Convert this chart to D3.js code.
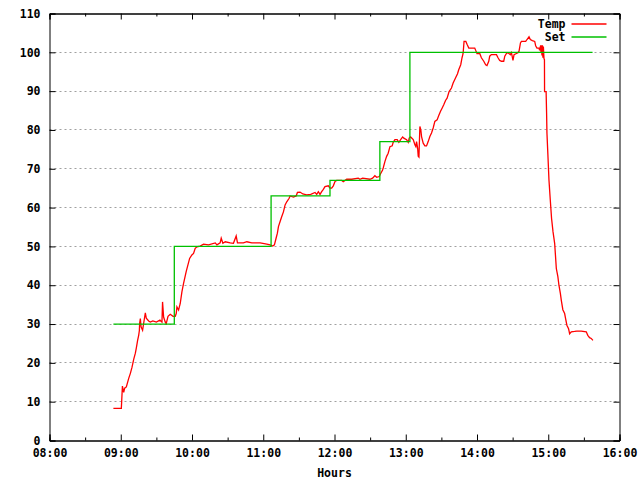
<!DOCTYPE html>
<html>
<head>
<meta charset="utf-8">
<script src="https://d3js.org/d3.v7.min.js"></script>
<style>
	body { margin: 0; background: #fff; }
	text { font-family: "DejaVu Sans Mono", monospace; font-size: 11.5px; font-weight: bold; fill: #000; }
</style>
</head>
<body>
<div id="chart"></div>
<script>

// times are minutes after midnight
var temp_time = [533.8, 540.5, 541.4, 542.5, 543.3, 544.7, 546.7, 548.1, 549.5, 550.9, 552.3, 553.1, 554.2, 555.1, 555.7, 555.9, 556.5, 557.1, 558.4, 559.3, 560.7, 561.5, 563.5, 564.9, 567, 570, 573, 574.7, 575.2, 576.1, 577.5, 578.3, 579.8, 581.7, 584, 585.9, 586.7, 587.3, 588.7, 590.1, 591.5, 592.9,
	595.1, 598.0, 599.9, 601.3, 602.7, 604.2, 606.9, 609.7, 613.9, 619.6, 621, 623.7, 624.6, 626, 628, 632.2, 634.9, 637.2, 638.3, 643.3, 646.2, 650.4, 657.4, 663, 665.8, 668, 669.4, 670.8, 671.9, 672.8, 674.2, 675.6, 677, 678.4, 679.8, 681.8,
	682.6, 685.4, 687.7, 688.8, 691, 693.3, 696.6, 700, 703.6, 705, 706.4, 707.8, 709.2, 710.6, 712, 714.8, 716.2, 717.6, 719, 720.4, 721.8, 726.1, 727.4, 730.3, 734.5, 740, 741.4, 743.7, 749.8, 752.1, 754, 755.5, 757.7, 758.8, 760.5,
	761, 762.5, 763.9, 765.2, 766.7, 768.6, 769.4, 770.9, 772.8, 774.2, 775.7, 777.4, 778.4, 780.7, 782.1, 782.9, 784.1, 786.3, 787.7, 788.5, 789.1, 790, 790.5, 791.1, 791.9, 792.7, 793.3, 794.7, 796.1, 797.5, 798.9, 800.3, 801.7,
	803.1, 804.5, 806.4, 807.8, 809.3, 810.6, 812, 813.5, 814.8, 816.5, 818.5, 819.9, 821.9, 823.6, 824.6, 826.3, 827.4, 828.3, 829.1, 830.6, 831.7, 833.1, 838.1, 838.9, 840, 842.3, 843.7, 845.7, 847.3, 848.4, 849.9, 850.7, 852.1,
	856.4, 857.7, 859.1, 860.6, 862.5, 863.4, 864.8, 866.1, 868.1, 869, 870.3, 871.2, 873.2, 874.5, 875.4, 876.6, 877.4, 881, 882.1, 883.8, 884.9, 886.6, 888.6, 889.4, 890.5, 892.2, 892.7, 893.6, 893.9, 894.3, 894.7, 895.1, 895.5,
	895.9, 896.4, 896.8, 896.9, 898.2, 898.6, 898.9, 899.7, 900.6, 901.7, 902.8, 904, 905.4, 906.8, 908.1, 909, 910.2, 911, 912.3, 913.8, 914.6, 915.7, 917.1, 918, 919.4, 922.2, 924.1, 927.8, 932, 933.3, 934.8, 936.2, 937.6]

var temp_value = [8.3, 8.3, 14.0, 12.4, 13.5, 13.8, 16.0, 17.3, 18.9, 20.9, 22.5, 23.8, 25.8, 27.1, 28.4, 30.2, 31.4, 29.3, 28.4, 30.2, 32.9, 31.5, 30.8, 30.5, 30.8, 30.5, 31.0, 30.5, 35.7, 31.8, 30.5, 30.1, 32.0, 32.5, 32.0, 32.0, 32.7, 34.4, 33.6, 35.3, 38.3, 40.5,
	43.5, 46.9, 47.8, 48.2, 49.5, 49.9, 50.1, 50.6, 50.4, 50.9, 50.4, 50.9, 52.1, 50.8, 51.2, 50.9, 50.8, 52.7, 50.9, 50.9, 51.2, 50.9, 50.9, 50.6, 50.4, 50.1, 50.4, 52.1, 53.4, 55.1, 56.4, 57.7, 58.9, 60.7, 61.5, 62.4,
	63.0, 62.7, 63.0, 63.9, 64.0, 63.5, 63.3, 63.4, 63.9, 63.4, 64.1, 63.4, 64.1, 64.7, 65.4, 65.6, 65.0, 65.0, 65.6, 66.7, 67.0, 67.0, 66.7, 67.3, 67.3, 67.6, 67.3, 67.6, 67.3, 67.6, 68.2, 67.8, 68.0, 68.7, 69.7,
	70.2, 71.9, 73.2, 74.0, 75.7, 75.9, 76.8, 77.5, 77.5, 76.8, 77.5, 78.2, 77.9, 77.5, 76.8, 77.9, 78.2, 77.5, 76.2, 75.7, 77.0, 75.3, 73.2, 73.0, 80.9, 80.0, 78.3, 76.6, 75.9, 75.9, 77.0, 78.3, 79.2,
	80.5, 82.2, 82.6, 83.7, 84.8, 85.6, 86.5, 87.6, 88.2, 89.9, 90.8, 92.1, 93.4, 94.5, 95.5, 96.8, 98.6, 99.7, 102.8, 102.8, 102.0, 101.1, 101.1, 100.5, 99.7, 99.7, 98.6, 97.7, 96.8, 96.6, 97.7, 99.0, 99.4,
	99.4, 98.6, 97.9, 97.7, 97.7, 99.0, 99.7, 99.9, 99.4, 99.9, 97.9, 99.4, 99.7, 99.9, 100.3, 102.4, 102.8, 102.8, 103.3, 104.0, 103.3, 103.0, 102.8, 101.7, 101.1, 101.1, 100.5, 101.8, 99.8, 101.8, 99.2, 101.8, 98.6,
	101.5, 98.4, 98.1, 89.9, 89.9, 84.4, 79.2, 73.6, 67.1, 62.0, 57.2, 53.8, 50.8, 44.3, 42.2, 40.0, 37.9, 36.1, 33.7, 32.7, 31.4, 29.7, 28.8, 27.5, 28.0, 28.1, 28.2, 28.2, 28.0, 27.1, 26.5, 26.3, 25.8]

var set_time = [533.8, 585.1, 666.6, 716.2, 758.2, 783.5, 937.3]
var set_value = [30, 50, 63, 67, 77, 100, 100]

var x_ticks = [480, 540, 600, 660, 720, 780, 840, 900, 960]
var x_minor = [510, 570, 630, 690, 750, 810, 870, 930]
var y_ticks = [0, 10, 20, 30, 40, 50, 60, 70, 80, 90, 100, 110]

var series = [
	{ name: "Temp", color: "#ff0000", vals: temp_time.map((t, i) => ({ time: t, value: temp_value[i] })) },
	{ name: "Set", color: "#00c000", vals: set_time.map((t, i) => ({ time: t, value: set_value[i] })) }
]

var margin = {top: 13.5, right: 20.5, bottom: 39.5, left: 49.5},
    width = 640 - margin.left - margin.right,
    height = 480 - margin.top - margin.bottom

var svg = d3.select("#chart")
		    .append("svg")
		    .attr("width", 640)
		    .attr("height", 480)
		    .append("g")
		    .attr("transform", "translate(" + margin.left + "," + margin.top + ")")

var x_scale = d3.scaleLinear().range([0, width]).domain([480, 960])
var y_scale = d3.scaleLinear().range([height, 0]).domain([0, 110])

function hhmm (m) {
	return d3.format("02")(Math.floor(m / 60)) + ":" + d3.format("02")(m % 60)
}

// dotted grid
svg.append("g")
	.selectAll("line")
	.data(y_ticks.filter(d => d > 0 && d < 110))
	.enter().append("line")
	.attr("x1", 0).attr("x2", width)
	.attr("y1", d => Math.round(y_scale(d)))
	.attr("y2", d => Math.round(y_scale(d)))
	.attr("stroke", "#a0a0a0")
	.attr("stroke-dasharray", "2,3")

// axes, ticks drawn inward on all sides
svg.append("g")
	.attr("transform", "translate(0," + height + ")")
	.call(d3.axisBottom(x_scale).tickValues(x_ticks).tickSize(-6).tickPadding(8).tickFormat(hhmm))
svg.append("g")
	.attr("transform", "translate(0," + height + ")")
	.call(d3.axisBottom(x_scale).tickValues(x_minor).tickSize(-3).tickFormat(""))
svg.append("g")
	.call(d3.axisTop(x_scale).tickValues(x_ticks).tickSize(-6).tickFormat(""))
svg.append("g")
	.call(d3.axisTop(x_scale).tickValues(x_minor).tickSize(-3).tickFormat(""))
svg.append("g")
	.call(d3.axisLeft(y_scale).tickValues(y_ticks).tickSize(-6).tickPadding(9))
svg.append("g")
	.attr("transform", "translate(" + width + ",0)")
	.call(d3.axisRight(y_scale).tickValues(y_ticks).tickSize(-6).tickFormat(""))

svg.selectAll(".domain").attr("stroke", "#000")
svg.selectAll(".tick line").attr("stroke", "#000")
svg.selectAll(".tick text").attr("font-size", null).attr("font-family", null)

svg.append("text")
	.attr("x", x_scale(720))
	.attr("y", height + 36)
	.attr("text-anchor", "middle")
	.text("Hours")

var line = d3.line()
	.x(d => x_scale(d.time))
	.y(d => y_scale(d.value))

svg.selectAll(".serie")
	.data(series)
	.enter().append("path")
	.attr("class", "serie")
	.attr("fill", "none")
	.attr("stroke", d => d.color)
	.attr("stroke-width", 1.3)
	.attr("d", d => (d.name == "Set" ? line.curve(d3.curveStepAfter) : line.curve(d3.curveLinear))(d.vals))

// legend
var legend = svg.selectAll(".legend")
	.data(series)
	.enter().append("g")
	.attr("transform", (d, i) => "translate(" + (width - 48) + "," + (10.5 + i * 13) + ")")

legend.append("text")
	.attr("x", -6)
	.attr("dy", "0.35em")
	.attr("text-anchor", "end")
	.text(d => d.name)

legend.append("line")
	.attr("x1", 0).attr("x2", 35)
	.attr("stroke", d => d.color)
	.attr("stroke-width", 1.3)

</script>
</body>
</html>
